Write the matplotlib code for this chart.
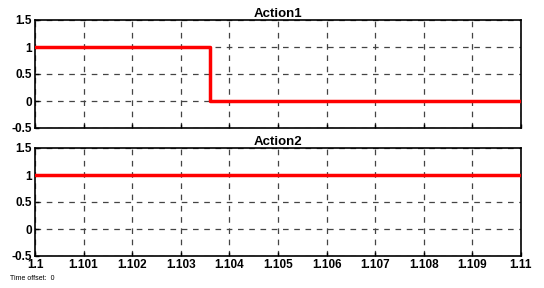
import matplotlib
matplotlib.use("Agg")
from matplotlib import pyplot as plt

plt.rcParams["font.family"] = ["Liberation Sans", "DejaVu Sans"]

# segnali (tempo, valore)
time = [1.1, 1.1036, 1.11]
action1 = [1, 0, 0]
action2 = [1, 1, 1]

titles = ["Action1", "Action2"]
series = [action1, action2]
xticks = [1.1, 1.101, 1.102, 1.103, 1.104, 1.105, 1.106, 1.107, 1.108, 1.109, 1.11]
xlabels = ["1.1", "1.101", "1.102", "1.103", "1.104", "1.105", "1.106", "1.107", "1.108", "1.109", "1.11"]
yticks = [-0.5, 0, 0.5, 1, 1.5]
ylabels = ["-0.5", "0", "0.5", "1", "1.5"]

fig = plt.figure(figsize=(5.44, 2.88), dpi=100)
W, H = 544, 288
boxes = [(35, 20, 521, 128), (35, 148, 521, 256)]

for i, (x0, y0, x1, y1) in enumerate(boxes):
    ax = fig.add_axes([x0 / W, 1 - y1 / H, (x1 - x0) / W, (y1 - y0) / H])
    ax.plot(time, series[i], drawstyle="steps-post", color="red", linewidth=2.5, zorder=3)
    ax.set_xlim(1.1, 1.11)
    ax.set_ylim(-0.5, 1.5)
    ax.set_xticks(xticks)
    ax.set_yticks(yticks)
    ax.set_yticklabels(ylabels, fontsize=8.5, fontweight="bold")
    if i == 1:
        ax.set_xticklabels(xlabels, fontsize=8.5, fontweight="bold")
    else:
        ax.set_xticklabels([])
    ax.tick_params(direction="in", length=3, width=1, pad=2)
    ax.grid(True, color="#444444", linestyle=(0, (4.5, 4.5)), linewidth=0.9)
    for s in ax.spines.values():
        s.set_linewidth(1.2)
    ax.set_title(titles[i], fontsize=9.5, fontweight="bold", pad=2)

fig.text(10 / W, 1 - 279 / H, "Time offset:  0", fontsize=5, va="center")

fig.savefig("out.png", dpi=100)
